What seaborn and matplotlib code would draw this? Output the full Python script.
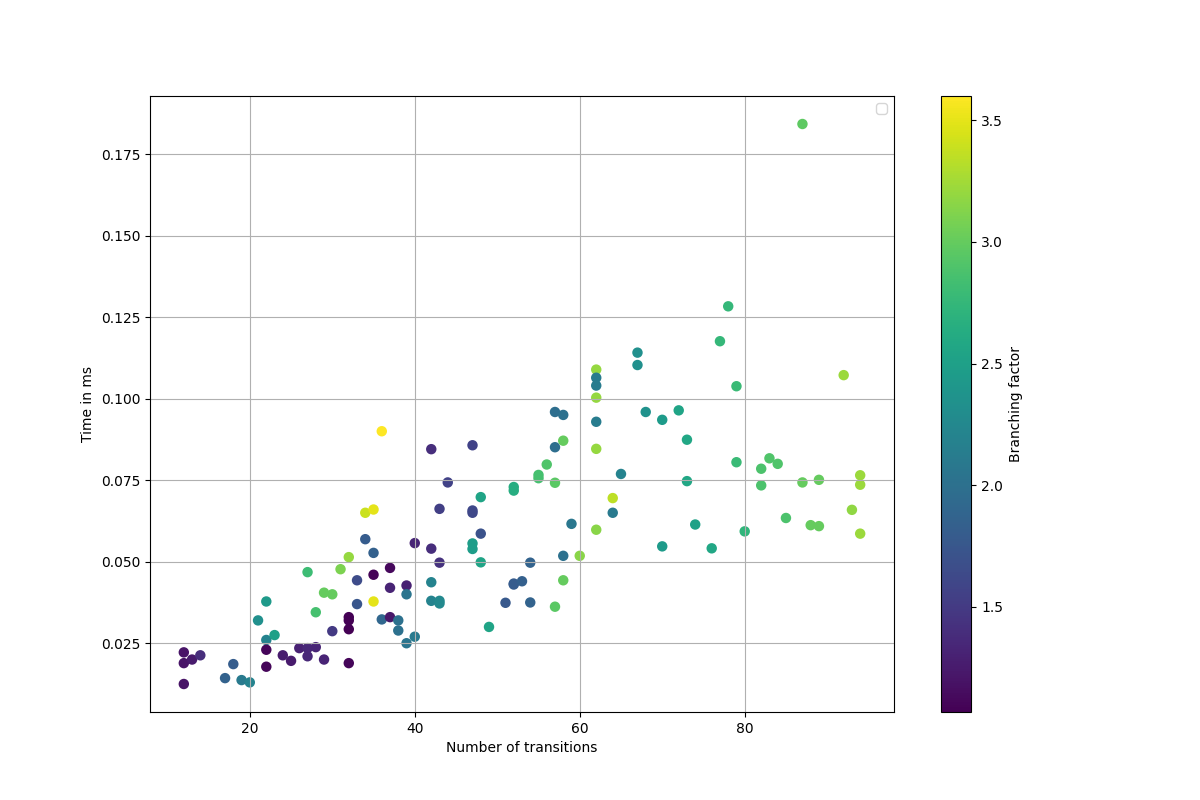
import matplotlib
matplotlib.use("Agg")
import matplotlib.pyplot as plt
import seaborn as sns
import pandas as pd
from matplotlib.colors import Normalize
from matplotlib.cm import ScalarMappable

transitions = [12, 12, 12, 13, 14, 17, 18, 19, 20, 21,
               22, 22, 22, 22, 23, 24, 25, 26, 27, 27,
               27, 28, 28, 29, 29, 30, 30, 31, 32, 32,
               32, 32, 32, 33, 33, 34, 34, 35, 35, 35,
               35, 36, 36, 37, 37, 37, 38, 38, 39, 39,
               39, 40, 40, 42, 42, 42, 42, 43, 43, 43,
               43, 44, 47, 47, 47, 47, 47, 48, 48, 48,
               49, 51, 52, 52, 52, 52, 53, 54, 54, 55,
               55, 56, 57, 57, 57, 57, 58, 58, 58, 58,
               59, 60, 62, 62, 62, 62, 62, 62, 62, 64,
               64, 65, 67, 67, 68, 70, 70, 72, 73, 73,
               74, 76, 77, 78, 79, 79, 80, 82, 82, 83,
               84, 85, 87, 87, 88, 89, 89, 92, 93, 94,
               94, 94]

time_ms = [0.0222, 0.0189, 0.0125, 0.0200, 0.0213, 0.0143, 0.0186, 0.0137, 0.0130, 0.0320,
           0.0378, 0.0260, 0.0230, 0.0178, 0.0275, 0.0213, 0.0196, 0.0235, 0.0235, 0.0210,
           0.0468, 0.0345, 0.0238, 0.0200, 0.0405, 0.0400, 0.0287, 0.0477, 0.0514, 0.0330,
           0.0320, 0.0293, 0.0189, 0.0443, 0.0370, 0.0650, 0.0569, 0.0660, 0.0527, 0.0460,
           0.0378, 0.0900, 0.0323, 0.0481, 0.0420, 0.0330, 0.0320, 0.0289, 0.0427, 0.0400,
           0.0250, 0.0557, 0.0270, 0.0845, 0.0540, 0.0437, 0.0380, 0.0380, 0.0372, 0.0662,
           0.0497, 0.0743, 0.0857, 0.0657, 0.0650, 0.0556, 0.0539, 0.0698, 0.0586, 0.0498,
           0.0300, 0.0374, 0.0433, 0.0430, 0.0729, 0.0718, 0.0440, 0.0497, 0.0375, 0.0766,
           0.0756, 0.0798, 0.0959, 0.0851, 0.0742, 0.0362, 0.0950, 0.0871, 0.0518, 0.0443,
           0.0616, 0.0518, 0.1089, 0.1064, 0.1040, 0.1003, 0.0929, 0.0846, 0.0598, 0.0695,
           0.0650, 0.0769, 0.1141, 0.1103, 0.0959, 0.0935, 0.0547, 0.0964, 0.0874, 0.0747,
           0.0614, 0.0541, 0.1176, 0.1283, 0.1038, 0.0805, 0.0593, 0.0785, 0.0734, 0.0817,
           0.0800, 0.0634, 0.1842, 0.0743, 0.0612, 0.0751, 0.0609, 0.1072, 0.0659, 0.0765,
           0.0736, 0.0586]

branching = [1.20, 1.20, 1.20, 1.25, 1.40, 1.85, 1.80, 2.10, 2.20, 2.33,
             2.44, 2.20, 1.10, 1.10, 2.50, 1.26, 1.25, 1.30, 1.35, 1.35,
             2.80, 2.85, 1.33, 1.32, 3.00, 3.00, 1.50, 3.10, 3.20, 1.067,
             1.067, 1.067, 1.10, 1.65, 1.74, 3.40, 1.79, 3.50, 1.84, 1.09,
             3.50, 3.60, 1.90, 1.12, 1.32, 1.23, 2.00, 2.00, 1.30, 2.05,
             2.05, 1.33, 2.10, 1.40, 1.40, 2.20, 2.20, 2.26, 2.26, 1.54,
             1.43, 1.57, 1.57, 1.62, 1.62, 2.47, 2.47, 2.55, 1.71, 2.55,
             2.55, 1.76, 1.79, 1.79, 2.65, 2.65, 1.83, 1.86, 1.86, 2.85,
             2.85, 2.90, 1.97, 1.97, 2.95, 2.95, 2.00, 3.00, 2.00, 3.00,
             2.07, 3.15, 3.20, 2.12, 2.12, 3.20, 2.12, 3.20, 3.15, 3.35,
             2.10, 2.20, 2.33, 2.33, 2.36, 2.45, 2.45, 2.55, 2.58, 2.58,
             2.52, 2.58, 2.75, 2.75, 2.78, 2.78, 2.72, 2.88, 2.88, 2.90,
             2.90, 2.88, 2.97, 3.00, 3.00, 3.00, 3.00, 3.22, 3.18, 3.22,
             3.22, 3.22]

df = pd.DataFrame({"transitions": transitions, "time": time_ms, "branching": branching})

fig, ax = plt.subplots(figsize=(12, 8), dpi=100)
norm = Normalize(vmin=min(branching), vmax=max(branching))
sns.scatterplot(data=df, x="transitions", y="time", hue="branching",
                palette="viridis", hue_norm=norm, s=36, linewidth=1.5,
                edgecolor="face", legend=False, ax=ax)
ax.set_xlabel("Number of transitions")
ax.set_ylabel("Time in ms")
ax.grid(True)
ax.legend(handles=[])
sm = ScalarMappable(norm=norm, cmap="viridis")
sm.set_array([])
cbar = fig.colorbar(sm, ax=ax)
cbar.set_label("Branching factor")
fig.savefig("out.png", dpi=100)
